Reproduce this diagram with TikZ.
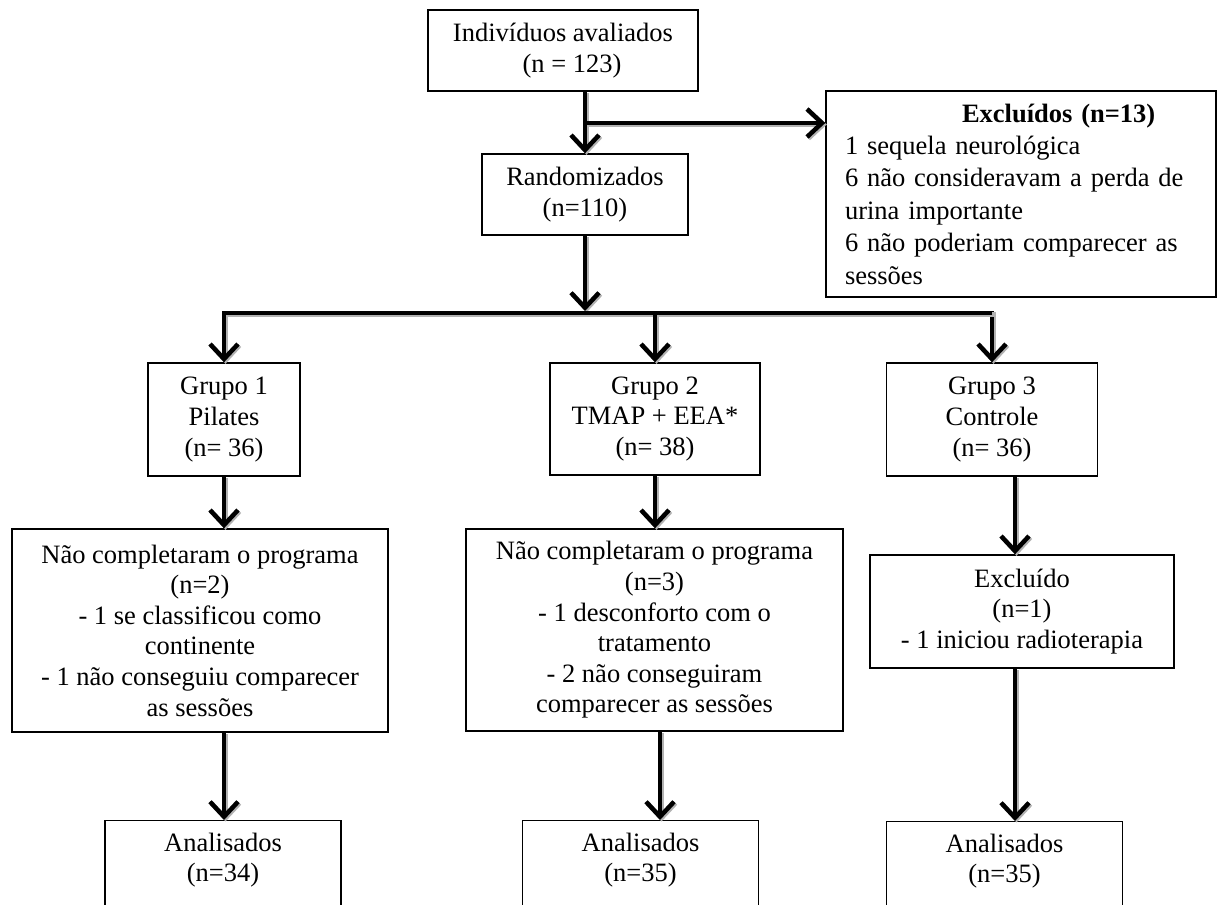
\documentclass[tikz,border=0pt]{standalone}
\usepackage{fontspec}
\setmainfont{Liberation Serif}
\usetikzlibrary{arrows.meta,calc}
\begin{document}
\begin{tikzpicture}[x=1pt,y=-1pt,
  box/.style={draw, line width=1.4pt, align=center, inner sep=0pt,
    font=\fontsize{26.5pt}{30.6pt}\selectfont},
  conn/.style={line width=4.5pt,
    preaction={draw=black!30, line width=4.5pt, transform canvas={shift={(1.5pt,-1.5pt)}}}},
  arr/.style={conn, -{Straight Barb[length=15pt,width=28pt,line width=4.5pt]}},
]
\useasboundingbox (0,0) rectangle (1224,905);
\clip (0,0) rectangle (1224,905);
\fill[white] (0,0) rectangle (1224,905);

% nodes
\node[box, minimum width=270pt, minimum height=81pt] (top) at (563,50.5)
  {Indivíduos avaliados\\\hspace*{18pt}(n = 123)};
\node[box, minimum width=206pt, minimum height=81pt] (rand) at (585,194.5)
  {Randomizados\\(n=110)};
\node[box, minimum width=390pt, minimum height=206pt, text width=376pt, inner xsep=7pt,
  align=left, font=\fontsize{26.5pt}{32.4pt}\selectfont] (excl) at (1021,194)
  {\hspace*{129pt}\textbf{Excluídos (n=13)}\\
   \hspace*{12pt}1 sequela neurológica\\
   \hspace*{12pt}\makebox[364pt][s]{6 não consideravam a perda de}\\
   \hspace*{12pt}urina importante\\
   \hspace*{12pt}\makebox[364pt][s]{6 não poderiam comparecer as}\\
   \hspace*{12pt}sessões};

\node[box, minimum width=152pt, minimum height=113pt] (g1) at (224,419.5)
  {Grupo 1\\Pilates\\(n= 36)};
\node[box, minimum width=210pt, minimum height=112pt] (g2) at (655,419)
  {Grupo 2\\TMAP + EEA*\\(n= 38)};
\node[box, minimum width=211pt, minimum height=113pt] (g3) at (992,419.5)
  {Grupo 3\\Controle\\(n= 36)};

\node[box, minimum width=376pt, minimum height=203pt] (n1) at (200,630.5)
  {Não completaram o programa\\(n=2)\\- 1 se classificou como\\continente\\- 1 não conseguiu comparecer\\as sessões};
\node[box, minimum width=377pt, minimum height=202pt] (n2) at (654.5,630)
  {Não completaram o programa\\(n=3)\\- 1 desconforto com o\\tratamento\\- 2 não conseguiram\\comparecer as sessões};
\node[box, minimum width=304pt, minimum height=113pt] (e3) at (1022,611.5)
  {Excluído\\(n=1)\\- 1 iniciou radioterapia};

\node[box, anchor=north, minimum width=236pt, inner ysep=12pt, text depth=45pt] (a1) at (223,820)
  {Analisados\\(n=34)};
\node[box, anchor=north, minimum width=236pt, inner ysep=12pt, text depth=45pt] (a2) at (640.5,820)
  {Analisados\\(n=35)};
\node[box, anchor=north, minimum width=236pt, inner ysep=12pt, text depth=45pt] (a3) at (1004.5,821)
  {Analisados\\(n=35)};

% connectors
\coordinate (jx) at (585,123);
\coordinate (barL) at (224,313);
\coordinate (barR) at (992,313);
\coordinate (x2) at (660,0);
\coordinate (x3) at (1015,0);

\draw[arr] (rand.north |- top.south) -- (rand.north);
\draw[arr] (jx) -- (jx -| excl.west);
\draw[arr] (rand.south) -- ($(rand.south |- barL)+(0,-2)$);
\draw[arr] (barL) -- (barR) -- (g3.north);
\draw[arr] (barR) -- (barL) -- (g1.north);
\draw[arr] (g2.north |- barL) -- (g2.north);

\draw[arr] (g1.south) -- (g1.south |- n1.north);
\draw[arr] (g1.south |- n1.south) -- (g1.south |- a1.north);
\draw[arr] (g2.south) -- (g2.south |- n2.north);
\draw[arr] (x2 |- n2.south) -- (x2 |- a2.north);
\draw[arr] (x3 |- g3.south) -- (x3 |- e3.north);
\draw[arr] (x3 |- e3.south) -- (x3 |- a3.north);
\end{tikzpicture}
\end{document}
